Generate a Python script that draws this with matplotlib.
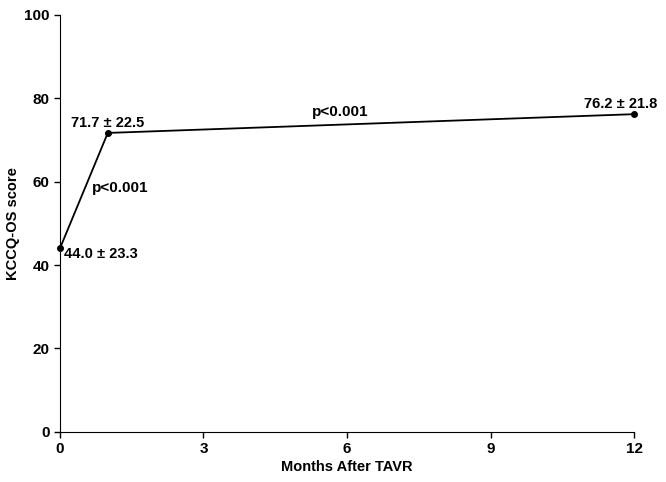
import matplotlib
matplotlib.use("Agg")
import matplotlib.pyplot as plt

plt.rcParams['font.family'] = ['Liberation Sans', 'DejaVu Sans']
plt.rcParams['font.weight'] = 'bold'

months = [0, 1, 12]
scores = [44.0, 71.7, 76.2]
sds = [23.3, 22.5, 21.8]
xticks = [0, 3, 6, 9, 12]
yticks = [0, 20, 40, 60, 80, 100]

fig = plt.figure(figsize=(6.66, 4.82), dpi=100)
ax = fig.add_axes([0.090, 0.104, 0.862, 0.865])

ax.plot(months, scores, color='black', lw=1.3, marker='o', ms=4, clip_on=False, zorder=3)

# value labels
offsets = [(3, -4, 'left', 'center'), (0, 2, 'center', 'bottom'), (-10, 2, 'center', 'bottom')]
for m, s, sd, (dx, dy, ha, va) in zip(months, scores, sds, offsets):
    ax.annotate(f"{s:.1f} \u00b1 {sd:.1f}", (m, s), xytext=(dx, dy), textcoords='offset points',
                ha=ha, va=va, fontsize=10.5, fontweight='bold')

# p-values
ax.text(1.25, 58.5, "p<0.001", ha='center', va='center', fontsize=11, fontweight='bold')
ax.text(5.85, 76.7, "p<0.001", ha='center', va='center', fontsize=11, fontweight='bold')

ax.set_xlim(0, 12)
ax.set_ylim(0, 100)
ax.set_xticks(xticks)
ax.set_yticks(yticks)
ax.tick_params(direction='out', length=4, width=1, labelsize=11)
for lab in ax.get_xticklabels() + ax.get_yticklabels():
    lab.set_fontweight('bold')
ax.spines['top'].set_visible(False)
ax.spines['right'].set_visible(False)

ax.set_xlabel("Months After TAVR", fontsize=10.5, fontweight='bold', labelpad=3)
ax.set_ylabel("KCCQ-OS score", fontsize=10.5, fontweight='bold', labelpad=3)

fig.savefig("out.png", dpi=100)
